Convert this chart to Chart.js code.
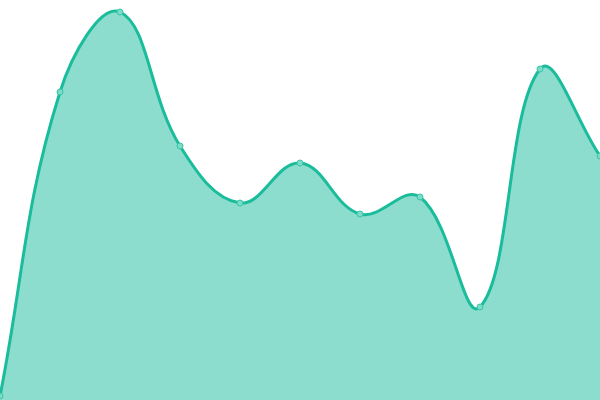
<!DOCTYPE html>
<html>
<head>
<meta charset="utf-8">
<script src="https://cdn.jsdelivr.net/npm/chart.js@4/dist/chart.umd.min.js"></script>
<style>
  html, body { margin: 0; padding: 0; background: #fff; }
  #wrap { width: 600px; height: 400px; }
</style>
</head>
<body>
<div id="wrap"><canvas id="chart"></canvas></div>
<script>
// donnees
const labels = ['1', '2', '3', '4', '5', '6', '7', '8', '9', '10', '11'];
const values = [1, 77, 97, 63.5, 49.25, 59.25, 46.5, 50.75, 23.25, 82.75, 61];
const yMin = 0;
const yMax = 100;

new Chart(document.getElementById('chart'), {
  type: 'line',
  data: {
    labels: labels,
    datasets: [{
      data: values,
      fill: 'start',
      borderColor: '#1abc9c',
      backgroundColor: 'rgba(26,188,156,0.5)',
      borderWidth: 3,
      tension: 0.4,
      pointRadius: 3,
      pointBorderWidth: 1,
      pointBackgroundColor: 'rgba(120,220,200,1)',
      pointBorderColor: '#3cc3a5',
    }],
  },
  options: {
    responsive: true,
    maintainAspectRatio: false,
    animation: false,
    layout: { padding: 0, autoPadding: false },
    plugins: { legend: { display: false }, tooltip: { enabled: false } },
    scales: {
      x: { display: false, offset: false },
      y: { display: false, min: yMin, max: yMax },
    },
  },
});
</script>
</body>
</html>
